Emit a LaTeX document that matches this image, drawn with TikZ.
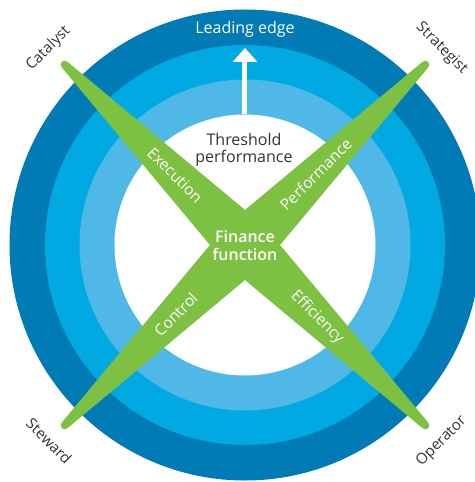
\documentclass[tikz,border=0pt]{standalone}
\usepackage{fontspec}
\setmainfont{Open Sans}
\newfontfamily\semibold{Open Sans Semibold}
\usetikzlibrary{arrows.meta}
\definecolor{ringA}{HTML}{007BB6}
\definecolor{ringB}{HTML}{00A9E2}
\definecolor{ringC}{HTML}{4FB8E7}
\definecolor{armgreen}{HTML}{7DC142}
\definecolor{txtgray}{HTML}{333333}
\tikzset{
  ring/.style={fill=#1},
  arm/.style={fill=armgreen},
  lbl/.style={text=white, font=\fontsize{15.5}{15.5}\selectfont, inner sep=1pt},
  role/.style={text=txtgray, font=\fontsize{15}{15}\selectfont, inner sep=1pt},
  mid/.style={align=center, inner sep=1pt},
  rise/.style={draw=white, line width=5pt, -{Triangle[width=24pt,length=14pt]}},
  diagram/.style={x=1pt, y=1pt}
}

\begin{document}
\begin{tikzpicture}[diagram]
  \useasboundingbox (-245,-237) rectangle (229,245);
  \fill[ring=ringA] (0,0) circle (235.5);
  \fill[ring=ringB] (0,0) circle (200);
  \fill[ring=ringC] (0,0) circle (165.5);
  \fill[white] (0,0) circle (130.5);
  \foreach \a in {45,135,225,315}
    \fill[arm, rotate=\a] (0,27) -- (255,4) arc (90:-90:4) -- (0,-27) -- cycle;

  \coordinate (disk) at (0,130.5);
  \coordinate (tip) at (0,197);
  \draw[rise] (disk) -- (tip);

  \node[text=white, font=\fontsize{16}{16}\selectfont, anchor=base] (lead) at (0,211) {Leading edge};
  \node[mid, text=txtgray, font=\fontsize{16}{17.5}\selectfont] (thr) at (-1,95) {Threshold\\performance};
  \node[mid, text=white, font=\semibold\fontsize{16}{18}\selectfont] (fin) at (0,-1) {Finance\\function};

  \node[lbl, rotate=-45] (exe) at (135:99) {Execution};
  \node[lbl, rotate=45] (perf) at (45:100) {Performance};
  \node[lbl, rotate=45] (ctrl) at (225:98) {Control};
  \node[lbl, rotate=-45] (eff) at (315:102) {Efficiency};

  \node[role, rotate=45] (cat) at (135:278) {Catalyst};
  \node[role, rotate=-45] (strat) at (45:278) {Strategist};
  \node[role, rotate=-45] (stew) at (225:277) {Steward};
  \node[role, rotate=45] (op) at (315:278) {Operator};
\end{tikzpicture}
\end{document}
